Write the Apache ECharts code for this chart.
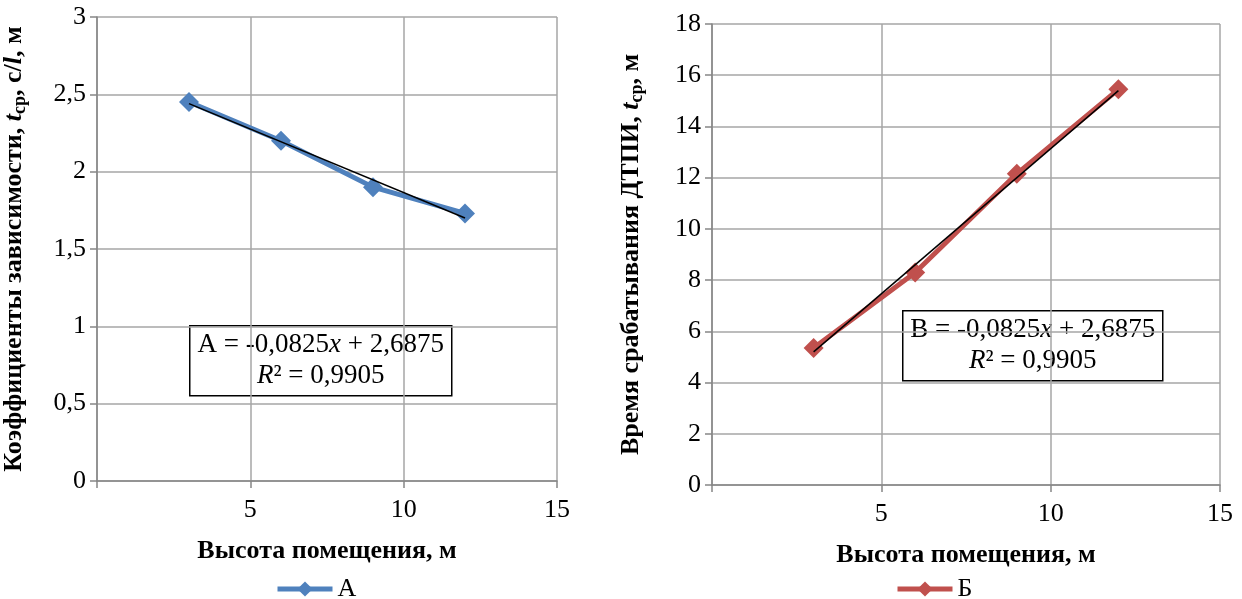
<!DOCTYPE html>
<html>
<head>
<meta charset="utf-8">
<script src="https://cdn.jsdelivr.net/npm/echarts@6/dist/echarts.min.js"></script>
<style>
  html, body { margin: 0; padding: 0; background: #fff; }
  #chart { width: 1242px; height: 599px; }
</style>
</head>
<body>
<div id="chart"></div>
<script>
// высота помещения, м
var heights = [3, 6, 9, 12]
// серия А — коэффициенты
var valuesA = [2.45, 2.2, 1.9, 1.73]
// серия Б — время срабатывания
var valuesB = [5.35, 8.3, 12.15, 15.45]
// концы линий тренда (читаются с картинки)
var trendX = [3, 12]
var trendA = [2.44, 1.7]
var trendB = [5.2, 15.4]
var xTicks = [0, 5, 10, 15]

var serif = 'Liberation Serif'
var gridColor = '#a6a6a6'
var axisColor = '#868686'

function pairs(xs, ys) {
  return xs.map(function (x, i) { return [x, ys[i]] })
}

function xAxisCfg(idx) {
  return {
    gridIndex: idx,
    type: 'value',
    min: xTicks[0],
    max: xTicks[xTicks.length - 1],
    interval: 5,
    name: 'Высота помещения, м',
    nameLocation: 'middle',
    nameGap: 57,
    nameTextStyle: { fontFamily: serif, fontSize: 26, fontWeight: 'bold', color: '#000' },
    axisLine: { show: true, onZero: false, lineStyle: { color: axisColor, width: 1.5 } },
    axisTick: { show: true, length: 7, lineStyle: { color: axisColor, width: 1.5 } },
    axisLabel: {
      margin: 16,
      fontFamily: serif,
      fontSize: 26,
      color: '#000',
      formatter: function (v) { return v === 0 ? '' : String(v) },
    },
    splitLine: { show: true, lineStyle: { color: gridColor, width: 1.5 } },
  }
}

var nameRich = {
  b: { fontFamily: serif, fontSize: 26, fontWeight: 'bold', color: '#000', lineHeight: 30, verticalAlign: 'middle' },
  i: { fontFamily: serif, fontSize: 26, fontWeight: 'bold', fontStyle: 'italic', color: '#000', lineHeight: 30, verticalAlign: 'middle' },
  sub: { fontFamily: serif, fontSize: 18, fontWeight: 'bold', color: '#000', lineHeight: 30, verticalAlign: 'bottom' },
}

var boxRich = {
  n: { fontFamily: serif, fontSize: 27, color: '#000', lineHeight: 31 },
  i: { fontFamily: serif, fontSize: 27, fontStyle: 'italic', color: '#000', lineHeight: 31 },
}

var legendText = { fontFamily: serif, fontSize: 26, color: '#000' }

var myChart = echarts.init(document.getElementById('chart'))
var option = {
  backgroundColor: '#fff',
  animation: false,
  grid: [
    { left: 97, top: 17, width: 460, height: 464 },
    { left: 712, top: 24, width: 508, height: 461 },
  ],
  xAxis: [xAxisCfg(0), xAxisCfg(1)],
  yAxis: [
    {
      gridIndex: 0,
      type: 'value',
      min: 0,
      max: 3,
      interval: 0.5,
      name: '{b|Коэффициенты зависимости, }{i|t}{sub|ср}{b|, с/}{i|l}{b|, м}',
      nameLocation: 'middle',
      nameGap: 68,
      nameTextStyle: { rich: nameRich },
      axisLine: { show: true, lineStyle: { color: axisColor, width: 1.5 } },
      axisTick: { show: true, length: 7, lineStyle: { color: axisColor, width: 1.5 } },
      axisLabel: {
        margin: 11,
        fontFamily: serif,
        fontSize: 26,
        color: '#000',
        formatter: function (v) { return String(v).replace('.', ',') },
      },
      splitLine: { show: true, lineStyle: { color: gridColor, width: 1.5 } },
    },
    {
      gridIndex: 1,
      type: 'value',
      min: 0,
      max: 18,
      interval: 2,
      name: '{b|Время срабатывания ДТПИ, }{i|t}{sub|ср}{b|, м}',
      nameLocation: 'middle',
      nameGap: 66,
      nameTextStyle: { rich: nameRich },
      axisLine: { show: true, lineStyle: { color: axisColor, width: 1.5 } },
      axisTick: { show: true, length: 7, lineStyle: { color: axisColor, width: 1.5 } },
      axisLabel: { margin: 11, fontFamily: serif, fontSize: 26, color: '#000' },
      splitLine: { show: true, lineStyle: { color: gridColor, width: 1.5 } },
    },
  ],
  legend: [
    {
      data: ['А'],
      left: 270,
      top: 571,
      itemWidth: 55,
      itemHeight: 19,
      itemGap: 5,
      lineStyle: { width: 5 },
      textStyle: legendText,
    },
    {
      data: ['Б'],
      left: 890,
      top: 571,
      itemWidth: 55,
      itemHeight: 19,
      itemGap: 5,
      lineStyle: { width: 5 },
      textStyle: legendText,
    },
  ],
  graphic: [
    {
      type: 'group',
      left: 189,
      top: 325,
      children: [
        { type: 'rect', shape: { x: 0, y: 0, width: 262, height: 70 }, style: { fill: '#fff', stroke: '#000', lineWidth: 1.5 } },
        {
          type: 'text',
          x: 131,
          y: 4,
          style: {
            text: '{n|А = -0,0825}{i|x}{n| + 2,6875}\n{i|R}{n|² = 0,9905}',
            rich: boxRich,
            align: 'center',
          },
        },
      ],
    },
    {
      type: 'group',
      left: 902,
      top: 310,
      children: [
        { type: 'rect', shape: { x: 0, y: 0, width: 260, height: 70 }, style: { fill: '#fff', stroke: '#000', lineWidth: 1.5 } },
        {
          type: 'text',
          x: 130,
          y: 4,
          style: {
            text: '{n|В = -0,0825}{i|x}{n| + 2,6875}\n{i|R}{n|² = 0,9905}',
            rich: boxRich,
            align: 'center',
          },
        },
      ],
    },
  ],
  series: [
    {
      name: 'А',
      type: 'line',
      xAxisIndex: 0,
      yAxisIndex: 0,
      data: pairs(heights, valuesA),
      symbol: 'diamond',
      symbolSize: 20,
      color: '#4f81bd',
      lineStyle: { color: '#4f81bd', width: 5 },
      itemStyle: { color: '#4f81bd' },
      z: 2,
    },
    {
      name: 'trendA',
      type: 'line',
      xAxisIndex: 0,
      yAxisIndex: 0,
      data: pairs(trendX, trendA),
      symbol: 'none',
      lineStyle: { color: '#000', width: 1.5 },
      z: 3,
    },
    {
      name: 'Б',
      type: 'line',
      xAxisIndex: 1,
      yAxisIndex: 1,
      data: pairs(heights, valuesB),
      symbol: 'diamond',
      symbolSize: 20,
      color: '#c0504d',
      lineStyle: { color: '#c0504d', width: 5 },
      itemStyle: { color: '#c0504d' },
      z: 2,
    },
    {
      name: 'trendB',
      type: 'line',
      xAxisIndex: 1,
      yAxisIndex: 1,
      data: pairs(trendX, trendB),
      symbol: 'none',
      lineStyle: { color: '#000', width: 1.5 },
      z: 3,
    },
  ],
}
myChart.setOption(option, true)
</script>
</body>
</html>
